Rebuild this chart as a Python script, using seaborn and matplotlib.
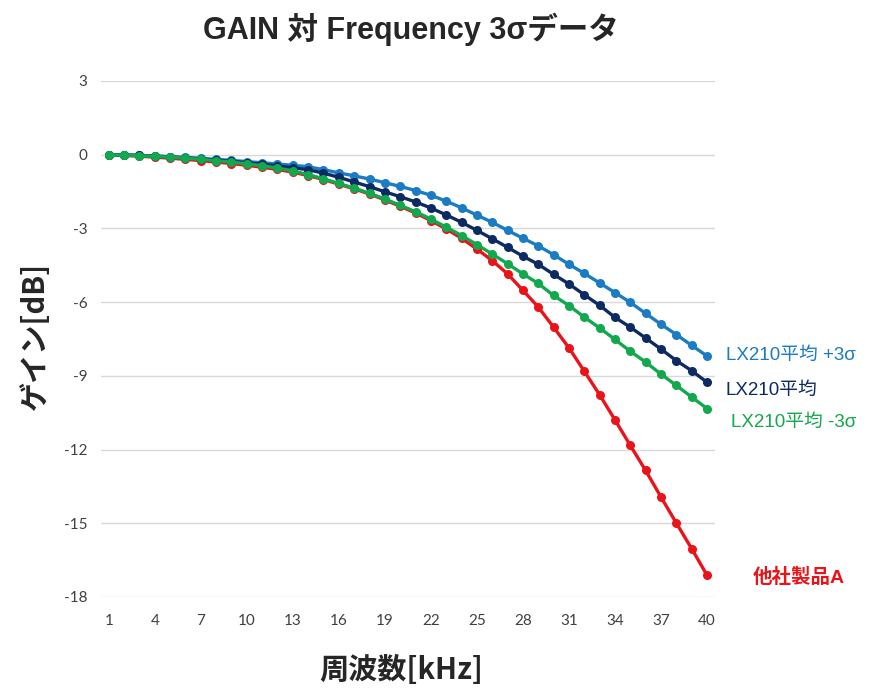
import numpy as np
import pandas as pd
import matplotlib
matplotlib.use("Agg")
import matplotlib.pyplot as plt
import seaborn as sns

sns.set_style("white")
plt.rcParams['font.family'] = ['Noto Sans CJK JP', 'DejaVu Sans']
plt.rcParams['axes.unicode_minus'] = False

# 周波数 [kHz]
freq = list(range(1, 41))
xticks = [1, 4, 7, 10, 13, 16, 19, 22, 25, 28, 31, 34, 37, 40]

# LX210平均 +3σ
plus3 = [0.00, -0.01, -0.03, -0.05, -0.08, -0.11, -0.15, -0.19, -0.23, -0.28,
         -0.33, -0.38, -0.43, -0.49, -0.61, -0.74, -0.86, -0.99, -1.14, -1.29,
         -1.46, -1.65, -1.89, -2.16, -2.46, -2.75, -3.08, -3.40, -3.71, -4.07,
         -4.46, -4.83, -5.22, -5.61, -6.01, -6.46, -6.90, -7.32, -7.76, -8.19]
# LX210平均
mean = [0.00, -0.01, -0.03, -0.06, -0.09, -0.13, -0.17, -0.22, -0.27, -0.33,
        -0.39, -0.46, -0.53, -0.61, -0.75, -0.92, -1.11, -1.30, -1.51, -1.71,
        -1.92, -2.17, -2.45, -2.75, -3.08, -3.42, -3.77, -4.13, -4.46, -4.87,
        -5.26, -5.70, -6.13, -6.62, -7.02, -7.46, -7.91, -8.38, -8.79, -9.26]
# LX210平均 -3σ
minus3 = [0.00, -0.02, -0.04, -0.07, -0.10, -0.14, -0.19, -0.24, -0.30, -0.37,
          -0.45, -0.54, -0.66, -0.81, -0.98, -1.17, -1.36, -1.57, -1.80, -2.06,
          -2.32, -2.62, -2.95, -3.29, -3.66, -4.04, -4.44, -4.85, -5.24, -5.73,
          -6.14, -6.61, -7.05, -7.52, -8.00, -8.44, -8.93, -9.39, -9.86, -10.33]
# 他社製品A
other_a = [0.00, -0.03, -0.06, -0.10, -0.14, -0.19, -0.24, -0.30, -0.36, -0.43,
           -0.51, -0.60, -0.71, -0.85, -1.01, -1.20, -1.39, -1.60, -1.84, -2.10,
           -2.37, -2.68, -3.02, -3.40, -3.84, -4.31, -4.85, -5.52, -6.20, -7.02,
           -7.86, -8.81, -9.77, -10.79, -11.83, -12.85, -13.93, -14.99, -16.03, -17.11]

fig = plt.figure(figsize=(8.79, 6.94), dpi=100)
ax = fig.add_axes([0.115, 0.1398, 0.698, 0.7435])

series = [
    ("他社製品A", other_a, "#E8141A"),
    ("LX210平均 +3σ", plus3, "#1B7CC4"),
    ("LX210平均", mean, "#0D2A63"),
    ("LX210平均 -3σ", minus3, "#12A84D"),
]
for name, vals, col in series:
    df = pd.DataFrame({"freq": freq, "gain": vals})
    sns.lineplot(data=df, x="freq", y="gain", ax=ax, color=col, marker="o",
                 markersize=6.5, markeredgewidth=0, linewidth=2.4)

ax.set_xlim(0.5, 40.5)
ax.set_ylim(-18, 3)
ax.set_xticks(xticks)
ax.set_yticks(np.arange(-18, 4, 3))
ax.yaxis.grid(True, color="#d9d9d9", linewidth=1)
ax.xaxis.grid(False)
for s in ax.spines.values():
    s.set_visible(False)
ax.tick_params(axis="both", length=0, labelsize=11, labelcolor="#404040")
ax.tick_params(axis="x", pad=12)
ax.tick_params(axis="y", pad=10)
for lab in ax.get_xticklabels() + ax.get_yticklabels():
    lab.set_family(["Lato", "DejaVu Sans"])

ax.set_xlabel("周波数[kHz]", fontsize=21, fontweight="bold")
ax.set_ylabel("ゲイン[dB]", fontsize=21, fontweight="bold")
ax.xaxis.set_label_coords(0.49, -0.112)
ax.yaxis.set_label_coords(-0.083, 0.504)
fig.suptitle("GAIN 対 Frequency 3σデータ", x=0.468, y=0.958, va="center",
             fontsize=22, fontweight="bold",
             family=["Liberation Sans", "Noto Sans CJK JP"])

# 系列ラベル
labels = [
    ("LX210平均 +3σ", plus3[-1], "#1B7CC4", (14, 0), "normal", 13.5),
    ("LX210平均", mean[-1], "#0D2A63", (13, -6), "normal", 13.5),
    ("LX210平均 -3σ", minus3[-1], "#12A84D", (17, -10), "normal", 13.5),
    ("他社製品A", other_a[-1], "#E8141A", (33, -2), "bold", 14),
]
for txt, yv, col, off, fw, fs in labels:
    ax.annotate(txt, xy=(freq[-1], yv), xytext=off, textcoords="offset points",
                color=col, fontsize=fs, fontweight=fw, va="center", ha="left",
                family=["Liberation Sans", "Noto Sans CJK JP"],
                annotation_clip=False)

fig.savefig("out.png", dpi=100)
